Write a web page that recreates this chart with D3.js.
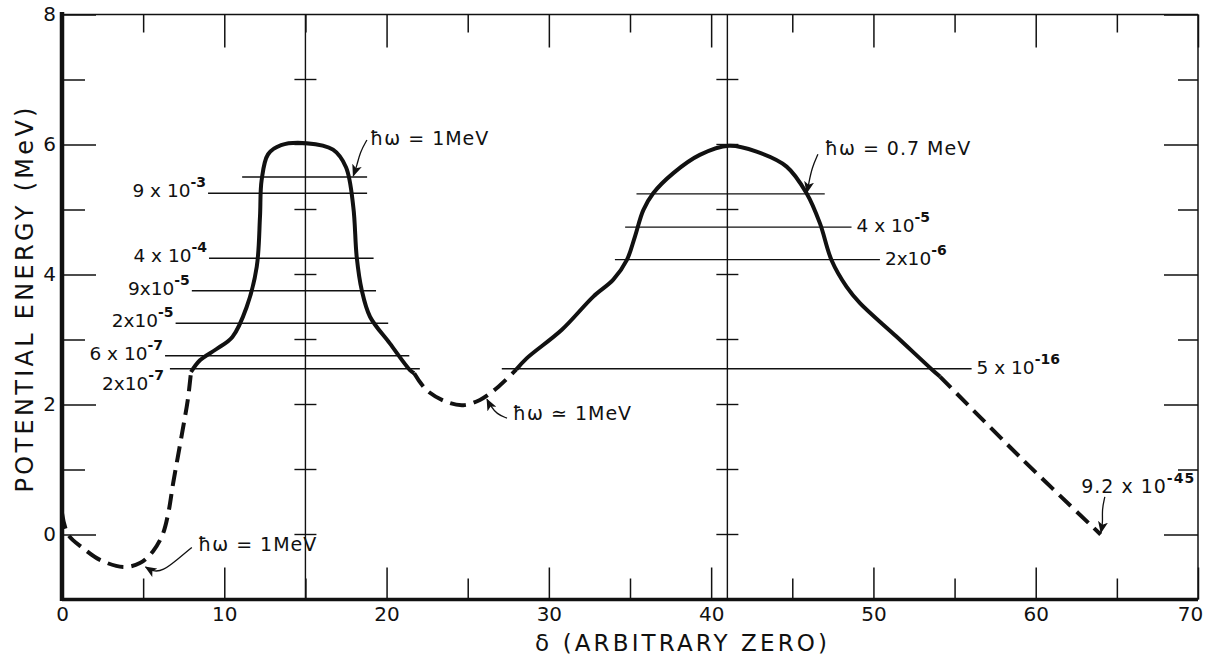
<!DOCTYPE html>
<html>
<head>
<meta charset="utf-8">
<title>Fission barrier</title>
<script src="https://cdn.jsdelivr.net/npm/d3@7"></script>
<style>
  body { margin: 0; background: #fff; }
  text { font-family: "DejaVu Sans", sans-serif; fill: #111; }
  .axis text { font-size: 20px; }
  .lvl text { font-size: 18.5px; }
</style>
</head>
<body>
<div id="chart"></div>
<script>
// axis values
var xMajor = [0, 10, 20, 30, 40, 50, 60, 70];
var xMinor = [5, 15, 25, 35, 45, 55, 65];
var yMajor = [0, 2, 4, 6, 8];
var yMinor = [1, 3, 5, 7];

// vertical lines through the two barrier tops, with small cross ticks
var peakLines = [15, 41];
var crossTicks = [0, 1, 2, 3, 4, 5, 6, 7];

// potential curve (delta, MeV)
var wellDashed = [[0, 0.33], [0.37, 0.0], [1.3, -0.21], [2.34, -0.39], [3.77, -0.5], [4.8, -0.44],
  [5.6, -0.26], [6.2, 0.0], [6.55, 0.33], [6.85, 0.79], [7.4, 1.56], [7.75, 2.07], [7.95, 2.5]];
var leftBarrier = [[7.95, 2.5], [8.5, 2.68], [9.5, 2.85], [10.5, 3.04], [11.38, 3.5], [12.0, 4.12],
  [12.2, 4.89], [12.3, 5.45], [12.7, 5.85], [13.5, 5.99], [15.08, 6.02], [16.7, 5.92], [17.5, 5.65],
  [17.95, 5.04], [18.16, 4.27], [18.47, 3.76], [18.98, 3.35], [20.2, 2.94], [21.44, 2.53], [21.7, 2.48]];
var midDashed = [[21.7, 2.48], [22.47, 2.22], [23.7, 2.04], [24.73, 1.99], [25.75, 2.07],
  [26.78, 2.25], [28.0, 2.54]];
var rightBarrier = [[28.0, 2.54], [28.63, 2.71], [30.8, 3.15], [32.74, 3.66], [33.97, 3.92],
  [34.8, 4.22], [35.3, 4.58], [35.82, 4.99], [36.43, 5.25], [37.67, 5.56], [39.3, 5.84], [41.1, 5.98],
  [42.8, 5.89], [44.65, 5.66], [45.88, 5.25], [46.7, 4.79], [47.42, 4.22], [48.35, 3.81],
  [49.17, 3.56], [51.4, 3.05], [53.6, 2.54], [54.1, 2.43]];
var tailDashed = [[54.1, 2.43], [59, 1.2], [64, 0.0]];

// level lines: energy, from, to, mantissa, exponent, where the label sits
var levels = [
  [5.5, 11.1, 18.8, "", "", ""],
  [5.25, 9.0, 18.8, "9 x 10", "-3", "left"],
  [4.25, 9.06, 19.2, "4 x 10", "-4", "left"],
  [3.75, 8.0, 19.35, "9x10", "-5", "left"],
  [3.25, 7.0, 20.1, "2x10", "-5", "left"],
  [2.75, 6.35, 21.4, "6 x 10", "-7", "left"],
  [2.55, 6.65, 22.05, "2x10", "-7", "below"],
  [2.55, 27.1, 56.05, "5 x 10", "-16", "right"],
  [5.24, 35.4, 47.0, "", "", ""],
  [4.73, 34.7, 48.65, "4 x 10", "-5", "right"],
  [4.23, 34.07, 50.4, "2x10", "-6", "right"]
];

// annotations: text position (start, baseline) and arrow path
var notes = [
  { x: 18.98, y: 6.0, text: "ħω = 1MeV", arrow: [[18.79, 6.07], [18.36, 5.88], [18.18, 5.68], [17.95, 5.52]] },
  { x: 47.0, y: 5.84, text: "ħω = 0.7 MeV", arrow: [[46.58, 5.85], [46.21, 5.64], [46.03, 5.42], [45.9, 5.26]] },
  { x: 27.78, y: 1.76, text: "ħω ≃ 1MeV", arrow: [[27.42, 1.79], [26.8, 1.85], [26.37, 1.99], [26.19, 2.08]] },
  { x: 8.38, y: -0.26, text: "ħω = 1MeV", arrow: [[8.0, -0.2], [7.07, -0.39], [6.22, -0.56], [5.6, -0.57], [5.15, -0.5]] },
  { x: 62.8, y: 0.64, text: "9.2 x 10", sup: "-45", arrow: [[64.26, 0.58], [64.08, 0.38], [64.14, 0.19], [64.02, 0.03]] }
];

var width = 1209, height = 656;
var ink = "#111";

var svg = d3.select("#chart").append("svg")
  .attr("width", width).attr("height", height);

var x = d3.scaleLinear().domain([0, 70]).range([62, 1198]);
var y = d3.scaleLinear().domain([-1, 8]).range([599.5, 14.5]);

svg.append("defs").append("marker")
  .attr("id", "head")
  .attr("markerUnits", "userSpaceOnUse")
  .attr("viewBox", "0 0 12 10")
  .attr("refX", 11).attr("refY", 5)
  .attr("markerWidth", 12).attr("markerHeight", 10)
  .attr("orient", "auto")
  .append("path").attr("d", "M0,0 L12,5 L0,10 L3,5 z").attr("fill", ink);

// ticks on all four sides, pointing inward
function tickAxis(axis, vals, len, labels, tr, pad) {
  var g = svg.append("g").attr("class", "axis").attr("transform", tr)
    .call(axis.tickValues(vals).tickSize(-len).tickPadding(pad)
      .tickFormat(labels ? d3.format("d") : ""));
  g.select(".domain").remove();
  g.selectAll(".tick line").attr("stroke", ink).attr("stroke-width", 1.5);
  return g;
}
var bottom = tickAxis(d3.axisBottom(x), xMajor, 32, true, "translate(0,599.5)", 7);
tickAxis(d3.axisBottom(x), xMinor, 21, false, "translate(0,599.5)", 7);
tickAxis(d3.axisTop(x), xMajor, 33, false, "translate(0,14.5)", 4);
tickAxis(d3.axisTop(x), xMinor, 18, false, "translate(0,14.5)", 4);
tickAxis(d3.axisLeft(y), yMajor, 34, true, "translate(62,0)", 6);
tickAxis(d3.axisLeft(y), yMinor, 23, false, "translate(62,0)", 6);
tickAxis(d3.axisRight(y), yMajor, 34, false, "translate(1198,0)", 4);
tickAxis(d3.axisRight(y), yMinor, 20, false, "translate(1198,0)", 4);
// keep the last label inside the page
bottom.selectAll(".tick text").filter(function(d) { return d === 70; }).attr("dx", -8);

// frame: heavy left and bottom, light top and right
svg.append("line").attr("x1", 62).attr("x2", 1198).attr("y1", 14.5).attr("y2", 14.5)
  .attr("stroke", ink).attr("stroke-width", 1.5);
svg.append("line").attr("x1", 1198).attr("x2", 1198).attr("y1", 14.5).attr("y2", 599.5)
  .attr("stroke", ink).attr("stroke-width", 1.5);
svg.append("line").attr("x1", 62).attr("x2", 1198).attr("y1", 599.5).attr("y2", 599.5)
  .attr("stroke", ink).attr("stroke-width", 3.5);
svg.append("line").attr("x1", 62).attr("x2", 62).attr("y1", 12).attr("y2", 601)
  .attr("stroke", ink).attr("stroke-width", 4.5);

// vertical lines at the barrier tops
peakLines.forEach(function(p) {
  svg.append("line").attr("x1", x(p)).attr("x2", x(p)).attr("y1", y(8)).attr("y2", y(-1))
    .attr("stroke", ink).attr("stroke-width", 1.4);
  svg.selectAll(null).data(crossTicks).enter().append("line")
    .attr("x1", x(p) - 11).attr("x2", x(p) + 11)
    .attr("y1", function(d) { return y(d); }).attr("y2", function(d) { return y(d); })
    .attr("stroke", ink).attr("stroke-width", 1.4);
});

// level lines and their penetrabilities
var lv = svg.append("g").attr("class", "lvl");
levels.forEach(function(l) {
  lv.append("line").attr("x1", x(l[1])).attr("x2", x(l[2]))
    .attr("y1", y(l[0])).attr("y2", y(l[0]))
    .attr("stroke", ink).attr("stroke-width", 1.3);
  if (!l[3]) return;
  var t = lv.append("text");
  if (l[5] === "right") {
    t.attr("x", x(l[2]) + 5).attr("y", y(l[0]) + 5).attr("text-anchor", "start");
  } else if (l[5] === "below") {
    t.attr("x", x(l[1]) - 6).attr("y", y(l[0]) + 21).attr("text-anchor", "end");
  } else {
    t.attr("x", x(l[1]) - 2).attr("y", y(l[0]) + 4).attr("text-anchor", "end");
  }
  t.append("tspan").text(l[3]);
  t.append("tspan").attr("dy", -10).attr("font-size", 14).attr("font-weight", "bold").text(l[4]);
});

// the potential curve
var line = d3.line().x(function(d) { return x(d[0]); }).y(function(d) { return y(d[1]); })
  .curve(d3.curveCatmullRom.alpha(0.5));
[[wellDashed, true], [leftBarrier, false], [midDashed, true], [rightBarrier, false], [tailDashed, true]]
  .forEach(function(s) {
    svg.append("path").attr("d", line(s[0]))
      .attr("fill", "none").attr("stroke", ink).attr("stroke-width", 4)
      .attr("stroke-dasharray", s[1] ? "16,8" : null);
  });

// annotations with hand-drawn arrows
var arrowLine = d3.line().x(function(d) { return x(d[0]); }).y(function(d) { return y(d[1]); })
  .curve(d3.curveBasis);
notes.forEach(function(n) {
  svg.append("path").attr("d", arrowLine(n.arrow))
    .attr("fill", "none").attr("stroke", ink).attr("stroke-width", 1.3)
    .attr("marker-end", "url(#head)");
  var t = svg.append("text").attr("x", x(n.x)).attr("y", y(n.y))
    .attr("font-size", 19).attr("letter-spacing", 1);
  t.append("tspan").text(n.text);
  if (n.sup) t.append("tspan").attr("dy", -10).attr("font-size", 14).attr("font-weight", "bold").text(n.sup);
});

// axis titles
svg.append("text")
  .attr("transform", "translate(33,300) rotate(-90)")
  .attr("text-anchor", "middle")
  .attr("font-size", 24)
  .attr("textLength", 385).attr("lengthAdjust", "spacing")
  .text("POTENTIAL ENERGY (MeV)");
svg.append("text")
  .attr("x", 535).attr("y", 651)
  .attr("font-size", 23)
  .attr("textLength", 292).attr("lengthAdjust", "spacing")
  .text("δ (ARBITRARY ZERO)");
</script>
</body>
</html>
